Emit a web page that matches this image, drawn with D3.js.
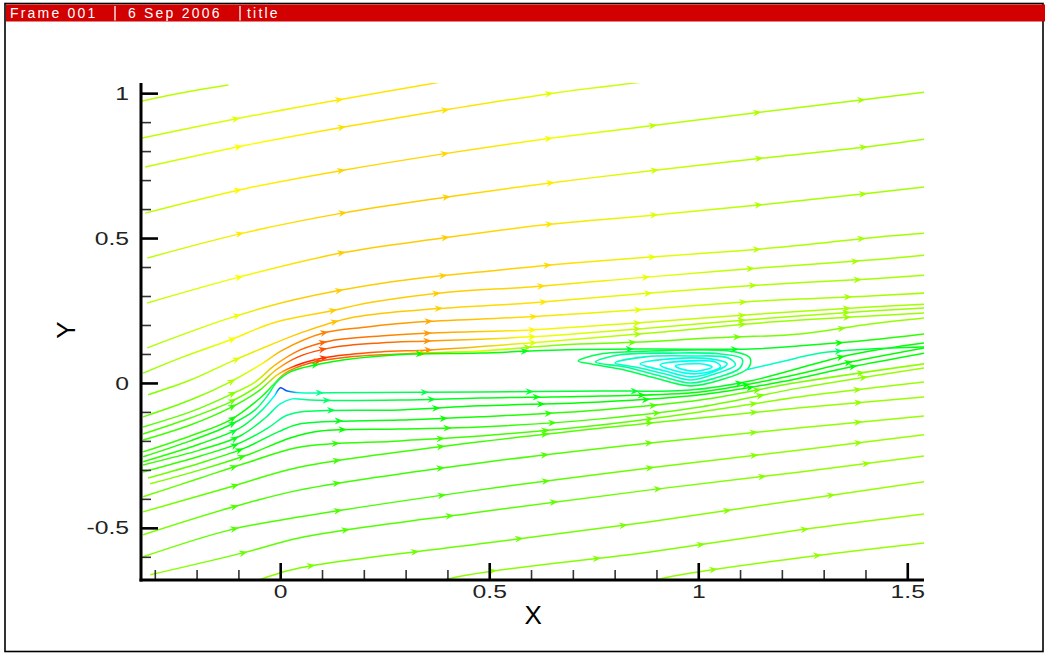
<!DOCTYPE html>
<html>
<head>
<meta charset="utf-8">
<script src="https://cdn.jsdelivr.net/npm/d3@7"></script>
<style>
  html, body { margin: 0; padding: 0; background: #fff; }
  svg { display: block; }
</style>
</head>
<body>
<svg id="chart" width="1045" height="655"></svg>
<script>
// Streamlines around an airfoil at incidence. Each point is [x, y, speed],
// speed being the normalised velocity magnitude used for the rainbow colouring.

// Free-stream lines above the body
const upstreamUpper = [
  [[-0.333,0.972,0.68],[-0.227,1.003,0.68],[-0.124,1.028,0.68]],
  [[-0.330,0.845,0.68],[-0.096,0.914,0.72],[0.148,0.979,0.77],[0.383,1.038,0.78]],
  [[-0.323,0.745,0.68],[-0.079,0.821,0.75],[0.163,0.886,0.78],[0.407,0.945,0.78],[0.653,1.000,0.72],[0.866,1.038,0.68]],
  [[-0.323,0.586,0.68],[-0.079,0.672,0.76],[0.151,0.734,0.79],[0.402,0.793,0.79],[0.651,0.845,0.74],[0.902,0.890,0.68],[1.148,0.934,0.67],[1.404,0.979,0.66],[1.541,1.003,0.66]],
  [[-0.318,0.431,0.68],[-0.089,0.517,0.77],[0.148,0.586,0.80],[0.395,0.641,0.80],[0.646,0.690,0.77],[0.897,0.734,0.70],[1.156,0.776,0.67],[1.416,0.817,0.66],[1.541,0.841,0.66]],
  [[-0.318,0.276,0.68],[-0.096,0.366,0.74],[0.144,0.448,0.80],[0.388,0.500,0.80],[0.629,0.545,0.78],[0.890,0.579,0.72],[1.144,0.614,0.67],[1.392,0.652,0.66],[1.541,0.676,0.66]],
  [[-0.318,0.121,0.66],[-0.127,0.221,0.72],[0.031,0.286,0.80],[0.263,0.348,0.80],[0.526,0.390,0.80],[0.701,0.414,0.78],[0.950,0.441,0.72],[1.203,0.469,0.67],[1.455,0.507,0.66],[1.541,0.517,0.66]]
];

// Lines wrapping over the leading edge and along the suction side
const leadingEdgeUpper = [
  [[-0.328,0.034,0.64],[-0.232,0.090,0.68],[-0.120,0.148,0.74],[-0.017,0.207,0.78],[0.120,0.248,0.80],[0.222,0.279,0.80],[0.407,0.314,0.80],[0.598,0.331,0.79],[0.885,0.366,0.73],[1.148,0.397,0.67],[1.411,0.424,0.66],[1.541,0.441,0.66]],
  [[-0.316,-0.041,0.62],[-0.215,0.010,0.66],[-0.120,0.072,0.70],[-0.024,0.131,0.78],[0.048,0.172,0.81],[0.167,0.224,0.81],[0.335,0.252,0.80],[0.598,0.276,0.78],[0.885,0.310,0.72],[1.148,0.338,0.67],[1.411,0.359,0.66],[1.541,0.372,0.66]],
  [[-0.328,-0.117,0.60],[-0.215,-0.059,0.62],[-0.120,0.003,0.66],[-0.048,0.062,0.74],[0.007,0.114,0.84],[0.103,0.172,0.87],[0.208,0.193,0.87],[0.328,0.210,0.84],[0.598,0.228,0.78],[0.885,0.255,0.72],[1.148,0.283,0.67],[1.411,0.300,0.66],[1.541,0.310,0.66]],
  [[-0.328,-0.152,0.58],[-0.215,-0.100,0.60],[-0.120,-0.041,0.62],[-0.060,0.003,0.68],[-0.012,0.062,0.82],[0.048,0.114,0.90],[0.120,0.145,0.90],[0.239,0.162,0.88],[0.359,0.172,0.85],[0.598,0.183,0.76],[0.885,0.210,0.70],[1.148,0.238,0.67],[1.411,0.262,0.66],[1.541,0.272,0.66]],
  [[-0.328,-0.176,0.57],[-0.215,-0.121,0.58],[-0.120,-0.066,0.60],[-0.053,-0.010,0.62],[-0.010,0.045,0.82],[0.043,0.090,0.93],[0.120,0.121,0.92],[0.239,0.138,0.90],[0.359,0.145,0.86],[0.598,0.159,0.74],[0.885,0.190,0.68],[1.148,0.221,0.66],[1.411,0.248,0.65],[1.541,0.259,0.65]],
  [[-0.328,-0.197,0.57],[-0.215,-0.145,0.56],[-0.120,-0.086,0.55],[-0.048,-0.024,0.55],[-0.007,0.028,0.80],[0.041,0.062,0.97],[0.120,0.090,0.95],[0.239,0.107,0.90],[0.359,0.114,0.86],[0.598,0.138,0.72],[0.885,0.172,0.66],[1.148,0.207,0.65],[1.411,0.231,0.65],[1.541,0.241,0.65]],
  [[-0.328,-0.238,0.56],[-0.215,-0.183,0.55],[-0.120,-0.128,0.52],[-0.048,-0.052,0.48],[-0.017,-0.007,0.55],[0.012,0.034,0.85],[0.072,0.069,0.92],[0.167,0.090,0.90],[0.287,0.100,0.86],[0.478,0.110,0.72],[0.670,0.131,0.62],[0.861,0.141,0.60],[1.029,0.155,0.60],[1.244,0.169,0.62],[1.411,0.203,0.64],[1.541,0.224,0.65]],
  [[-0.328,-0.255,0.55],[-0.215,-0.200,0.52],[-0.120,-0.145,0.48],[-0.060,-0.093,0.42],[-0.029,-0.041,0.35],[-0.010,0.000,0.38],[0.024,0.038,0.48],[0.120,0.072,0.50],[0.280,0.097,0.50],[0.478,0.103,0.50],[0.670,0.114,0.47],[0.885,0.117,0.45],[1.124,0.117,0.46],[1.244,0.128,0.48],[1.411,0.148,0.52],[1.541,0.169,0.55]]
];

// Lines passing under the stagnation point and along the pressure side
const leadingEdgeLower = [
  [[-0.328,-0.272,0.55],[-0.191,-0.210,0.52],[-0.096,-0.155,0.45],[-0.043,-0.093,0.35],[-0.014,-0.045,0.25],[0.000,-0.017,0.05],[0.017,-0.028,0.10],[0.048,-0.034,0.30],[0.120,-0.034,0.38],[0.478,-0.031,0.45],[0.766,-0.028,0.45],[0.981,-0.024,0.45],[1.124,0.007,0.48],[1.364,0.097,0.50],[1.541,0.138,0.50]],
  [[-0.328,-0.283,0.56],[-0.191,-0.231,0.53],[-0.096,-0.183,0.47],[-0.036,-0.121,0.38],[0.000,-0.072,0.30],[0.029,-0.055,0.30],[0.072,-0.059,0.38],[0.287,-0.059,0.45],[0.478,-0.052,0.48],[0.766,-0.045,0.50],[1.005,-0.031,0.50],[1.196,0.017,0.50],[1.364,0.072,0.50],[1.541,0.121,0.50]],
  [[-0.328,-0.307,0.57],[-0.191,-0.252,0.54],[-0.096,-0.207,0.48],[-0.029,-0.155,0.38],[0.012,-0.114,0.35],[0.048,-0.100,0.40],[0.287,-0.093,0.48],[0.478,-0.079,0.50],[0.766,-0.066,0.50],[1.005,-0.041,0.50],[1.196,0.003,0.50],[1.364,0.055,0.50],[1.541,0.103,0.50]],
  [[-0.316,-0.328,0.62],[-0.191,-0.276,0.58],[-0.084,-0.224,0.50],[-0.005,-0.169,0.42],[0.048,-0.141,0.45],[0.287,-0.128,0.50],[0.478,-0.117,0.52],[0.766,-0.093,0.55],[1.005,-0.059,0.58],[1.244,0.003,0.62],[1.541,0.066,0.64]],
  [[-0.311,-0.348,0.63],[-0.191,-0.300,0.60],[-0.072,-0.245,0.54],[0.024,-0.190,0.50],[0.096,-0.166,0.50],[0.287,-0.159,0.52],[0.478,-0.152,0.54],[0.766,-0.124,0.57],[1.005,-0.083,0.60],[1.244,-0.017,0.63],[1.541,0.052,0.65]]
];

// Free-stream lines below the body
const farFieldLower = [
  [[-0.328,-0.393,0.62],[-0.191,-0.328,0.58],[-0.072,-0.272,0.55],[0.048,-0.221,0.54],[0.287,-0.200,0.55],[0.478,-0.183,0.56],[0.766,-0.145,0.58],[1.005,-0.100,0.62],[1.244,-0.048,0.64],[1.541,0.003,0.65]],
  [[-0.328,-0.445,0.63],[-0.120,-0.359,0.58],[0.048,-0.290,0.56],[0.478,-0.203,0.56],[0.885,-0.138,0.60],[1.244,-0.086,0.64],[1.541,-0.048,0.65]],
  [[-0.328,-0.524,0.63],[-0.120,-0.431,0.58],[0.048,-0.369,0.56],[0.478,-0.276,0.56],[0.885,-0.207,0.60],[1.244,-0.155,0.64],[1.541,-0.114,0.65]],
  [[-0.328,-0.600,0.63],[-0.120,-0.507,0.58],[0.048,-0.462,0.57],[0.478,-0.369,0.57],[0.885,-0.293,0.61],[1.244,-0.231,0.64],[1.541,-0.179,0.65]],
  [[-0.311,-0.662,0.65],[-0.079,-0.583,0.60],[0.048,-0.534,0.58],[0.478,-0.445,0.58],[0.885,-0.369,0.61],[1.244,-0.307,0.64],[1.541,-0.252,0.65]],
  [[-0.144,-0.731,0.65],[-0.036,-0.672,0.64],[0.048,-0.638,0.62],[0.478,-0.555,0.60],[0.885,-0.479,0.62],[1.244,-0.403,0.64],[1.541,-0.341,0.65]],
  [[0.287,-0.731,0.65],[0.414,-0.672,0.64],[0.885,-0.583,0.62],[1.244,-0.507,0.64],[1.541,-0.452,0.65]],
  [[0.813,-0.714,0.65],[0.921,-0.672,0.64],[1.244,-0.603,0.64],[1.541,-0.552,0.65]]
];

// Line shed from the rear of the separation bubble
const wakeLines = [
  [[1.112,0.045,0.30],[1.196,0.072,0.30],[1.292,0.103,0.35],[1.411,0.117,0.45],[1.541,0.124,0.50]]
];

// Closed recirculation loops inside the separation bubble, outer to inner
const bubbleLoops = [
  [[0.713,0.076],[0.766,0.100],[0.885,0.110],[1.005,0.114],[1.089,0.107],[1.124,0.086],[1.120,0.052],[1.053,0.010],[0.981,-0.010],[0.897,0.017],[0.813,0.048],[0.742,0.066]],
  [[0.754,0.072],[0.813,0.097],[0.933,0.103],[1.053,0.100],[1.105,0.083],[1.100,0.052],[1.041,0.017],[0.981,0.000],[0.909,0.024],[0.825,0.055]],
  [[0.801,0.069],[0.873,0.090],[0.981,0.093],[1.072,0.086],[1.089,0.062],[1.033,0.028],[0.981,0.010],[0.921,0.031],[0.849,0.055]],
  [[0.861,0.066],[0.933,0.083],[1.029,0.083],[1.069,0.066],[1.029,0.034],[0.981,0.021],[0.921,0.041]],
  [[0.909,0.062],[0.981,0.076],[1.041,0.072],[1.053,0.055],[1.012,0.034],[0.969,0.034]],
  [[0.945,0.059],[1.005,0.066],[1.033,0.055],[1.000,0.041],[0.967,0.045]]
];
const bubbleSpeed = [0.42, 0.36, 0.31, 0.28, 0.27, 0.26];

// Rainbow contour map
const speedStops = [0, 0.25, 0.5, 0.75, 1];
const speedColors = ["#0000ff", "#00ffff", "#00ff00", "#ffff00", "#ff0000"];

// Axes
const xDomain = [-0.333, 1.54];
const yDomain = [-0.68, 1.035];
const xMajorTicks = [0, 0.5, 1, 1.5];
const xMinorTicks = [-0.3, -0.2, -0.1, 0.1, 0.2, 0.3, 0.4, 0.6, 0.7, 0.8, 0.9, 1.1, 1.2, 1.3, 1.4];
const yMajorTicks = [-0.5, 0, 0.5, 1];
const yMinorTicks = [-0.6, -0.4, -0.3, -0.2, -0.1, 0.1, 0.2, 0.3, 0.4, 0.6, 0.7, 0.8, 0.9];
const xTitle = "X";
const yTitle = "Y";

// Frame header
const headerFields = ["Frame 001", "6 Sep 2006", "title"];

const svg = d3.select("#chart");
const defs = svg.append("defs");

// Page frame and header bar
svg.append("rect").attr("x", 5).attr("y", 3.5).attr("width", 1038).attr("height", 648)
  .attr("fill", "#fff").attr("stroke", "#000").attr("stroke-width", 1.6);
svg.append("rect").attr("x", 6).attr("y", 4.5).attr("width", 1039).attr("height", 17).attr("fill", "#d20000");
const headerX = [10, 128, 247];
const header = svg.append("g").attr("font-family", "'Liberation Sans', Arial, sans-serif")
  .attr("font-size", 14).attr("fill", "#fff").attr("letter-spacing", "2.2px");
headerFields.forEach((t, i) => header.append("text").attr("x", headerX[i]).attr("y", 18).text(t));
[115, 240].forEach(bx => svg.append("line").attr("x1", bx).attr("x2", bx).attr("y1", 6).attr("y2", 20.5)
  .attr("stroke", "#fff").attr("stroke-width", 1.3));

const x = d3.scaleLinear().domain(xDomain).range([141, 924]);
const y = d3.scaleLinear().domain(yDomain).range([580, 83]);
const color = d3.scaleLinear().domain(speedStops).range(speedColors).clamp(true);

defs.append("clipPath").attr("id", "plotClip").append("rect")
  .attr("x", x(xDomain[0])).attr("y", y(yDomain[1]))
  .attr("width", x(xDomain[1]) - x(xDomain[0])).attr("height", y(yDomain[0]) - y(yDomain[1]));

const plot = svg.append("g").attr("clip-path", "url(#plotClip)");
const lineGen = d3.line().x(d => x(d[0])).y(d => y(d[1])).curve(d3.curveCatmullRom.alpha(0.5));
const loopGen = d3.line().x(d => x(d[0])).y(d => y(d[1])).curve(d3.curveCatmullRomClosed.alpha(0.5));

const arrowShape = "M0,0L-8.5,-3.4L-5.8,0L-8.5,3.4Z";
const arrowGap = 105;

// Recirculation loops
bubbleLoops.forEach((pts, i) => {
  plot.append("path").attr("d", loopGen(pts)).attr("fill", "none")
    .attr("stroke", color(bubbleSpeed[i])).attr("stroke-width", 1.6);
});

// Streamlines coloured along their length, with flow arrows
const allStreamlines = [].concat(upstreamUpper, leadingEdgeUpper, leadingEdgeLower, farFieldLower, wakeLines);
allStreamlines.forEach((pts, i) => {
  const xs = pts.map(p => x(p[0]));
  const x1 = xs[0], x2 = xs[xs.length - 1];
  const grad = defs.append("linearGradient").attr("id", "sl" + i)
    .attr("gradientUnits", "userSpaceOnUse")
    .attr("x1", x1).attr("x2", x2).attr("y1", 0).attr("y2", 0);
  pts.forEach((p, j) => grad.append("stop")
    .attr("offset", (xs[j] - x1) / (x2 - x1)).attr("stop-color", color(p[2])));
  const path = plot.append("path").attr("d", lineGen(pts)).attr("fill", "none")
    .attr("stroke", "url(#sl" + i + ")").attr("stroke-width", 1.5);

  const speedAt = d3.scaleLinear().domain(xs).range(pts.map(p => p[2])).clamp(true);
  const node = path.node();
  const len = node.getTotalLength();
  for (let d = 100; d < len - 12; d += arrowGap) {
    const p = node.getPointAtLength(d);
    const q = node.getPointAtLength(Math.min(len, d + 2));
    const ang = Math.atan2(q.y - p.y, q.x - p.x) * 180 / Math.PI;
    plot.append("path").attr("d", arrowShape)
      .attr("transform", `translate(${p.x},${p.y}) rotate(${ang})`)
      .attr("fill", color(speedAt(p.x)));
  }
});

// Axes with inward ticks
const axisFont = "'Liberation Sans', Arial, sans-serif";
const xAxisY = y(yDomain[0]);
const yAxisX = x(xDomain[0]);

const xMajor = svg.append("g").attr("transform", `translate(0,${xAxisY})`)
  .call(d3.axisBottom(x).tickValues(xMajorTicks).tickSize(-17).tickPadding(5).tickFormat(d => String(d)));
const xMinor = svg.append("g").attr("transform", `translate(0,${xAxisY})`)
  .call(d3.axisBottom(x).tickValues(xMinorTicks).tickSize(-10).tickFormat(""));
const yMajor = svg.append("g").attr("transform", `translate(${yAxisX},0)`)
  .call(d3.axisLeft(y).tickValues(yMajorTicks).tickSize(-17).tickPadding(12).tickFormat(d => String(d)));
const yMinor = svg.append("g").attr("transform", `translate(${yAxisX},0)`)
  .call(d3.axisLeft(y).tickValues(yMinorTicks).tickSize(-10).tickFormat(""));

[xMajor, xMinor, yMajor, yMinor].forEach(g => g.select(".domain").remove());
[xMajor, yMajor].forEach(g => g.selectAll(".tick line").attr("stroke", "#000").attr("stroke-width", 2.6));
[xMinor, yMinor].forEach(g => g.selectAll(".tick line").attr("stroke", "#333").attr("stroke-width", 1.6));
[xMajor, yMajor].forEach(g => g.selectAll(".tick text")
  .attr("font-family", axisFont).attr("font-size", 19).attr("fill", "#222")
  .each(function () {
    // widen the digits to the broad face used on the plot
    const w = this.getComputedTextLength();
    d3.select(this).attr("textLength", w * 1.3).attr("lengthAdjust", "spacingAndGlyphs");
  }));

svg.append("line").attr("x1", yAxisX).attr("x2", yAxisX).attr("y1", y(yDomain[1])).attr("y2", xAxisY + 1.5)
  .attr("stroke", "#000").attr("stroke-width", 3);
svg.append("line").attr("x1", yAxisX - 1.5).attr("x2", x(xDomain[1])).attr("y1", xAxisY).attr("y2", xAxisY)
  .attr("stroke", "#000").attr("stroke-width", 3);

svg.append("text").attr("x", x(0.605)).attr("y", 624).attr("text-anchor", "middle")
  .attr("font-family", axisFont).attr("font-size", 26).attr("fill", "#000").text(xTitle);
svg.append("text").attr("transform", "translate(75,330) rotate(-90)").attr("text-anchor", "middle")
  .attr("font-family", axisFont).attr("font-size", 26).attr("fill", "#000").text(yTitle);
</script>
</body>
</html>
